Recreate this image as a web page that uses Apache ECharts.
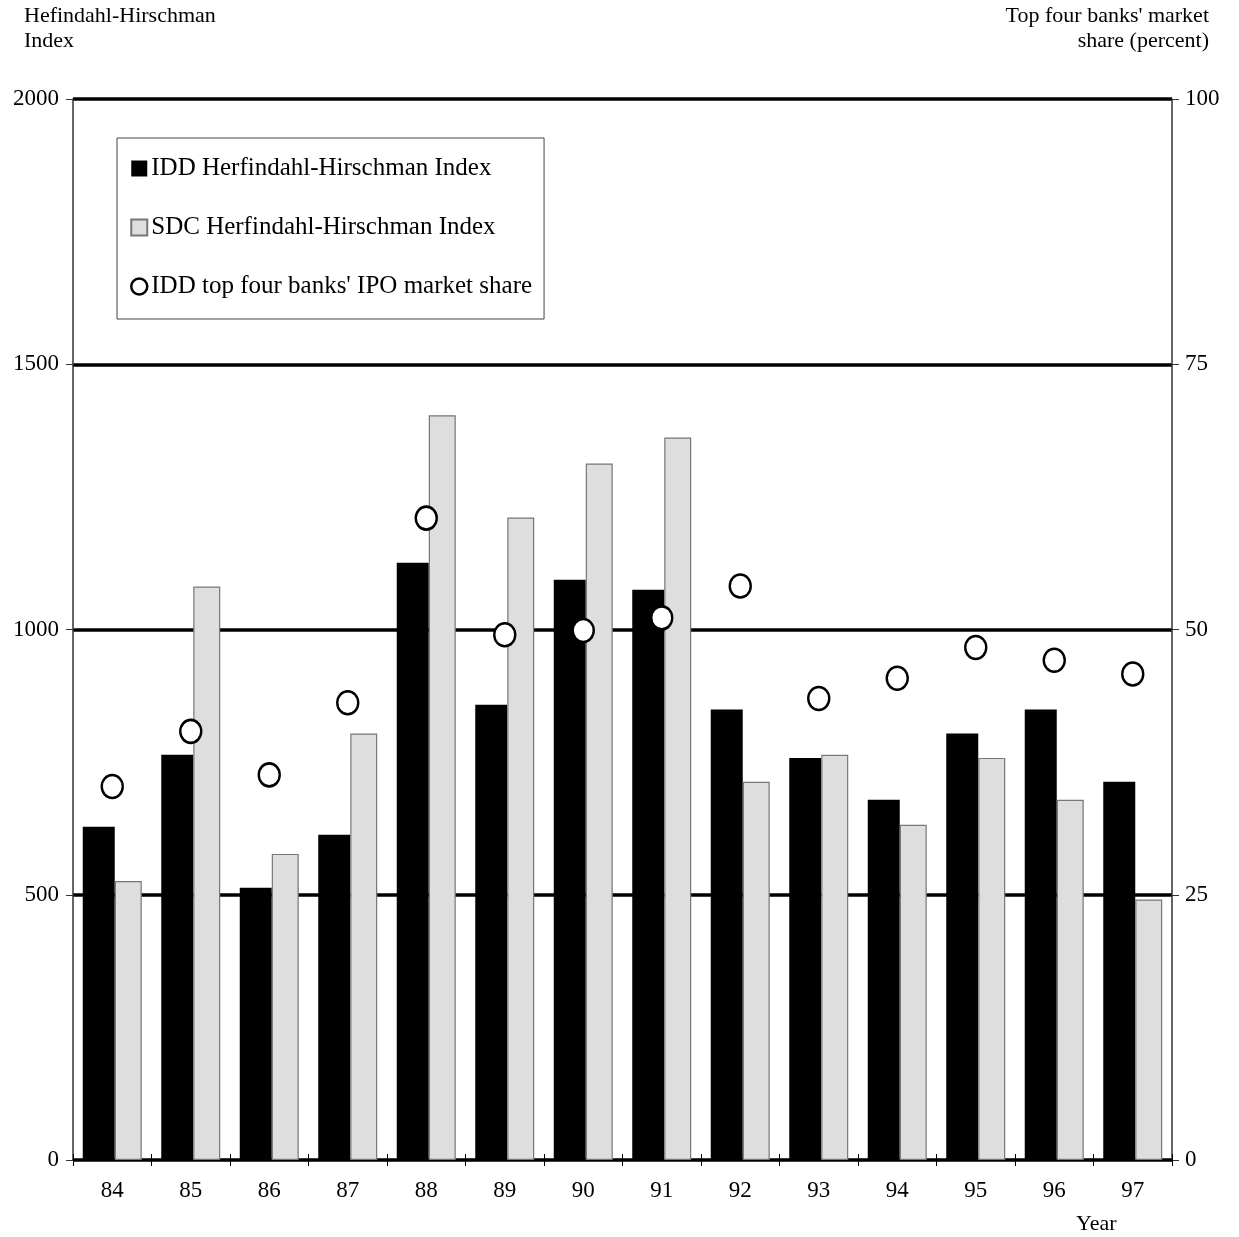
<!DOCTYPE html>
<html>
<head>
<meta charset="utf-8">
<script src="https://cdn.jsdelivr.net/npm/echarts@6/dist/echarts.min.js"></script>
<style>
html,body{margin:0;padding:0;background:#fff;}
#chart{width:1239px;height:1237px;}
</style>
</head>
<body>
<div id="chart"></div>
<script>
const years = ['84','85','86','87','88','89','90','91','92','93','94','95','96','97'];
const iddHHI = [628, 764, 513, 613, 1126, 858, 1094, 1075, 849, 758, 679, 804, 849, 713];
const sdcHHI = [526, 1081, 577, 804, 1404, 1211, 1313, 1362, 713, 764, 632, 758, 679, 491];
const top4Share = [35.2, 40.4, 36.3, 43.1, 60.5, 49.5, 49.9, 51.1, 54.1, 43.5, 45.4, 48.3, 47.1, 45.8];
const leftTicks = [0, 500, 1000, 1500, 2000];
const rightTicks = [0, 25, 50, 75, 100];

const FONT = '"Liberation Serif", "Times New Roman", serif';
const chart = echarts.init(document.getElementById('chart'));
chart.setOption({
  animation: false,
  backgroundColor: '#fff',
  textStyle: { fontFamily: FONT, color: '#000' },
  grid: { left: 73, right: 67, top: 99, bottom: 77 },
  legend: {
    orient: 'vertical',
    left: 117, top: 138,
    padding: [18, 12, 20, 13],
    itemGap: 34,
    itemWidth: 16, itemHeight: 16,
    borderColor: '#444', borderWidth: 1,
    textStyle: { fontFamily: FONT, fontSize: 25, color: '#000', padding: [0, 0, 0, -1] },
    data: [
      { name: 'IDD Herfindahl-Hirschman Index', icon: 'rect' },
      { name: 'SDC Herfindahl-Hirschman Index', icon: 'rect' },
      { name: "IDD top four banks' IPO market share", icon: 'circle',
        itemStyle: { color: '#fff', borderColor: '#000', borderWidth: 2.5 } }
    ]
  },
  xAxis: [
    {
      type: 'category', data: years,
      axisLine: { lineStyle: { color: '#000', width: 1.5 } },
      axisTick: { show: true, length: 6, lineStyle: { color: '#000' } },
      axisLabel: { fontFamily: FONT, fontSize: 23, color: '#000', margin: 19 },
      splitLine: { show: false }
    },
    {
      type: 'category', data: years, position: 'bottom',
      axisLine: { show: false },
      axisTick: { show: true, inside: true, length: 6, lineStyle: { color: '#000' } },
      axisLabel: { show: false },
      splitLine: { show: false }
    }
  ],
  yAxis: [
    {
      type: 'value', min: 0, max: 2000, interval: 500,
      axisLine: { show: true, lineStyle: { color: '#333', width: 1.5 } },
      axisTick: { show: true, length: 7, lineStyle: { color: '#333' } },
      axisLabel: { fontFamily: FONT, fontSize: 23, color: '#000', margin: 14,
        formatter: v => leftTicks.includes(v) ? String(v) : '' },
      splitLine: { show: true, lineStyle: { color: '#000', width: 3.5 } }
    },
    {
      type: 'value', min: 0, max: 100, interval: 25, position: 'right',
      axisLine: { show: true, lineStyle: { color: '#333', width: 1.5 } },
      axisTick: { show: true, length: 7, lineStyle: { color: '#333' } },
      axisLabel: { fontFamily: FONT, fontSize: 23, color: '#000', margin: 13,
        formatter: v => rightTicks.includes(v) ? String(v) : '' },
      splitLine: { show: false }
    }
  ],
  graphic: [
    { type: 'text', x: 24, y: 4,
      style: { text: 'Hefindahl-Hirschman\nIndex', font: '22px ' + FONT, fill: '#000',
        lineHeight: 25, align: 'left', verticalAlign: 'top' } },
    { type: 'text', x: 1209, y: 4,
      style: { text: "Top four banks' market\nshare (percent)", font: '22px ' + FONT, fill: '#000',
        lineHeight: 25, align: 'right', verticalAlign: 'top' } },
    { type: 'text', x: 1076, y: 1213,
      style: { text: 'Year', font: '22px ' + FONT, fill: '#000', align: 'left', verticalAlign: 'top' } }
  ],
  series: [
    {
      name: 'IDD Herfindahl-Hirschman Index', type: 'bar', data: iddHHI,
      barWidth: 32, barGap: '0%',
      itemStyle: { color: '#000', borderColor: '#000', borderWidth: 0 },
      z: 2
    },
    {
      name: 'SDC Herfindahl-Hirschman Index', type: 'bar', data: sdcHHI,
      barWidth: 27, barGap: '0%',
      itemStyle: { color: '#dedede', borderColor: '#777', borderWidth: 1.2 },
      z: 2
    },
    {
      name: "IDD top four banks' IPO market share", type: 'scatter', yAxisIndex: 1,
      data: top4Share, symbol: 'circle', symbolSize: [21, 23],
      itemStyle: { color: '#fff', borderColor: '#000', borderWidth: 2.5, opacity: 1 },
      z: 5
    }
  ]
});
</script>
</body>
</html>
